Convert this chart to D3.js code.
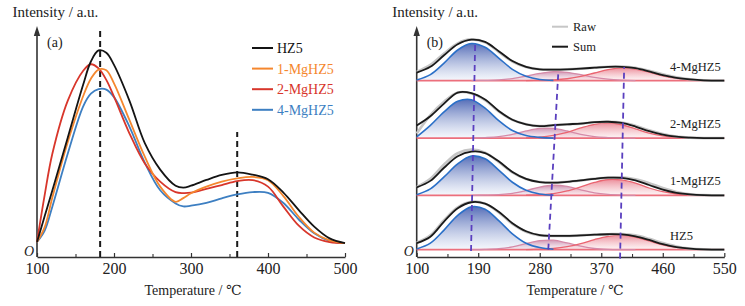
<!DOCTYPE html>
<html>
<head>
<meta charset="utf-8">
<script src="https://cdn.jsdelivr.net/npm/d3@7"></script>
<style>
  body { margin: 0; background: #fff; }
  svg text { font-family: "Liberation Serif", "Times New Roman", "DejaVu Serif", serif; }
</style>
</head>
<body>
<svg id="chart" width="745" height="306"></svg>
<script>
// ---- panel (a): TPD curves ----
const leftTemps = [100,110,120,140,160,170,180,190,200,220,240,260,280,290,300,320,340,360,380,400,420,440,460,480,500];
const leftNames = ["HZ5", "1-MgHZ5", "2-MgHZ5", "4-MgHZ5"];
const leftColors = ["#141414", "#f5872e", "#d8362b", "#3d7fc2"];
const leftHZ5  = [6.5,17.8,29,52,75,85,89.8,88.8,83.5,68,49.5,38,31,30.2,31,33.5,35.7,36.8,35.8,33.8,28,20.4,13.2,8.1,6];
const leftMg1  = [6.5,13,26,50,70,77.5,81.5,81.2,75.5,59.6,43.6,30.6,24,25.6,27.7,30.6,32.8,34.2,34.8,33.4,26.5,17.5,10.6,7.2,6];
const leftMg2  = [6.5,27,45,68,81,83.8,82,77,69.7,53.8,40.7,32.8,28.2,27.8,28,29.6,31.3,33,33.4,30.6,21.9,13.6,8.5,6.5,6];
const leftMg4  = [6.5,11.5,22,45,65.5,71,73,72.8,69.5,56.7,41,29,23.3,22,22.3,23.5,25.5,27.2,28.2,27.9,23.5,16.3,10.3,7,6];
const leftMarkers = [182, 360];
const leftMarkerTops = [99.6, 54.3];

// ---- panel (b): peak fitting ----
const fitNames = ["HZ5", "1-MgHZ5", "2-MgHZ5", "4-MgHZ5"];
const fitOffsets = [3.2, 26.8, 51.7, 76.7];
const sumTemps = [100,120,140,160,180,200,220,240,260,280,300,320,340,360,380,400,420,440,460,480,500,520,550];
const sumValues = [
  [2.8,5.6,12.2,18.0,20.6,20.0,16.5,11.5,8.0,6.3,6.0,6.0,6.2,6.5,6.7,6.6,5.8,4.2,2.4,1.1,0.4,0.1,0],
  [3.5,6.3,12.0,17.0,19.0,18.4,14.8,10.2,7.2,5.8,5.5,5.9,6.5,7.2,7.7,7.6,6.5,4.5,2.5,1.1,0.4,0.1,0],
  [5.5,9.5,15.0,19.8,19.6,16.8,11.8,8.0,6.0,5.2,5.6,6.0,6.3,6.9,7.1,6.6,5.0,3.0,1.5,0.6,0.2,0,0],
  [3.5,6.0,11.0,15.8,17.8,16.8,12.8,8.5,6.0,4.9,4.8,4.9,5.2,5.6,6.0,6.0,5.4,4.0,2.4,1.2,0.5,0.1,0]
];
const rawValues = [
  [3.0,6.2,12.8,18.4,20.8,20.0,16.2,11.2,7.8,6.2,6.0,6.0,6.2,6.5,6.7,6.8,6.2,4.7,2.9,1.4,0.5,0.1,0],
  [3.6,7.2,13.4,18.3,19.9,18.6,14.5,10.0,7.1,5.8,5.5,5.9,6.5,7.2,7.7,7.8,7.0,5.3,3.2,1.5,0.5,0.1,0],
  [2.0,10.0,15.8,19.8,19.4,16.5,11.6,7.9,6.0,5.2,5.6,6.0,6.3,6.9,7.1,6.8,5.4,3.4,1.8,0.7,0.2,0,0],
  [3.8,6.8,11.8,16.2,17.9,16.6,12.5,8.3,5.9,4.9,4.8,4.9,5.2,5.6,6.0,6.1,5.6,4.3,2.7,1.4,0.6,0.1,0]
];
const blueTemps = [100,120,140,160,180,200,220,240,260,280,300];
const blueValues = [
  [0.3,2.8,8.5,14.9,18.6,17.6,12.6,6.9,2.8,0.9,0.2],
  [0.3,2.8,8.0,13.7,17.1,15.9,11.0,5.7,2.2,0.6,0.1],
  [0.5,5.5,11.4,16.0,16.7,13.0,7.6,3.3,1.1,0.3,0],
  [0.3,2.6,7.6,13.3,16.1,14.5,9.8,4.9,1.9,0.5,0.1]
];
const pinkTemps = [180,200,220,240,260,280,300,320,340,360,380,400,420];
const pinkValues = [
  [0,0.1,0.4,1.2,2.6,3.9,4.1,2.9,1.5,0.5,0.1,0,0],
  [0,0.1,0.3,0.9,2.1,3.6,4.4,3.9,2.4,1.1,0.4,0.1,0],
  [0,0.2,0.6,1.6,3.1,4.2,4.2,3.1,1.6,0.6,0.2,0,0],
  [0,0.1,0.3,0.9,1.9,3.1,3.9,3.6,2.6,1.4,0.6,0.2,0]
];
const redTemps = [260,280,300,320,340,360,380,400,420,440,460,480,500,520,540];
const redValues = [
  [0,0.2,0.5,1.3,2.6,4.4,5.8,6.3,5.5,3.8,2.1,1.0,0.4,0.1,0],
  [0.1,0.3,0.8,1.9,3.7,5.6,6.9,6.7,5.3,3.2,1.6,0.6,0.2,0,0],
  [0.1,0.4,1.2,2.5,4.4,6.0,6.6,5.8,4.0,2.2,1.0,0.3,0.1,0,0],
  [0,0.1,0.3,0.8,1.8,3.3,4.8,5.5,5.0,3.7,2.1,1.0,0.4,0.1,0]
];
// dashed peak guides: [temp, intensity] at the low and high ends
const guideLow  = [[179.5, 2.6], [292.5, 3.2], [397.5, -0.7]];
const guideHigh = [[185.5, 92.8], [307, 79.4], [403.5, 82.6]];

const svg = d3.select("#chart");
const serif = '"Liberation Serif", "Times New Roman", serif';

const y = d3.scaleLinear().domain([0, 100]).range([257, 27]);
const xa = d3.scaleLinear().domain([100, 500]).range([37, 345]);
const xb = d3.scaleLinear().domain([100, 550]).range([416.7, 724.3]);

// gradients for the fitted peaks
const defs = svg.append("defs");
function grad(id, top, bottom, op) {
  const g = defs.append("linearGradient").attr("id", id)
    .attr("x1", 0).attr("y1", 0).attr("x2", 0).attr("y2", 1);
  g.append("stop").attr("offset", "0%").attr("stop-color", top).attr("stop-opacity", op);
  g.append("stop").attr("offset", "100%").attr("stop-color", bottom).attr("stop-opacity", op * 0.6);
}
grad("gBlue", "#4d66b4", "#eef2fa", 0.95);
grad("gPink", "#c27a9f", "#f6eaf0", 0.8);
grad("gRed", "#e5697a", "#fbe6e9", 0.75);

function label(x, yy, size, txt) {
  return svg.append("text").attr("x", x).attr("y", yy).attr("font-size", size)
    .attr("font-family", serif).attr("fill", "#222").text(txt);
}

function drawAxes(x, majors, minors, panelLabel, labelX) {
  const ax = svg.append("g")
    .attr("transform", `translate(0,${y(0)})`)
    .attr("font-family", serif)
    .call(d3.axisBottom(x).tickValues(majors).tickSizeInner(-4).tickSizeOuter(0)
      .tickPadding(5.5).tickFormat(d3.format("d")));
  ax.select(".domain").attr("stroke", "#333").attr("stroke-width", 1.6);
  ax.selectAll(".tick line").attr("stroke", "#333").attr("stroke-width", 1.2);
  ax.selectAll(".tick text").attr("font-size", 16).attr("fill", "#222");

  const mi = svg.append("g")
    .attr("transform", `translate(0,${y(0)})`)
    .call(d3.axisBottom(x).tickValues(minors).tickSizeInner(-3).tickSizeOuter(0).tickFormat(""));
  mi.select(".domain").remove();
  mi.selectAll(".tick line").attr("stroke", "#333").attr("stroke-width", 1.1);

  const x0 = x.range()[0];
  svg.append("line")
    .attr("x1", x0).attr("x2", x0).attr("y1", y(0)).attr("y2", y(100) + 6)
    .attr("stroke", "#333").attr("stroke-width", 1.6);
  svg.append("path")
    .attr("d", `M${x0},${y(100) - 1}L${x0 - 3.2},${y(100) + 9}L${x0 + 3.2},${y(100) + 9}Z`)
    .attr("fill", "#333");

  label(x0 - 24.5, 17, 15, "Intensity / a.u.");
  label(x0 - 13, y(0) - 1, 14, "O").attr("font-style", "italic");
  label(labelX, 295, 14, "Temperature / \u2103").attr("text-anchor", "middle");
  label(x0 + 10, 47, 14, panelLabel);
}

// ---- panel (a) ----
drawAxes(xa, d3.range(100, 501, 100), d3.range(150, 451, 100), "(a)", 193);

leftMarkers.forEach((t, i) => {
  svg.append("line")
    .attr("x1", xa(t)).attr("x2", xa(t)).attr("y1", y(0)).attr("y2", y(leftMarkerTops[i]))
    .attr("stroke", "#1a1a1a").attr("stroke-width", 2).attr("stroke-dasharray", "6,4");
});

const leftSeries = [leftHZ5, leftMg1, leftMg2, leftMg4];
const leftLine = d3.line()
  .x((d, i) => xa(leftTemps[i]))
  .y(d => y(d))
  .curve(d3.curveCatmullRom.alpha(0.5));

[3, 2, 1, 0].forEach(i => {
  svg.append("path")
    .attr("d", leftLine(leftSeries[i]))
    .attr("fill", "none")
    .attr("stroke", leftColors[i])
    .attr("stroke-width", 1.8);
});

leftNames.forEach((n, i) => {
  const ly = 48 + i * 20.6;
  svg.append("line").attr("x1", 252).attr("x2", 273).attr("y1", ly).attr("y2", ly)
    .attr("stroke", leftColors[i]).attr("stroke-width", 2);
  label(277, ly, 14, n).attr("dy", "0.35em").attr("fill", leftColors[i]);
});

// ---- panel (b) ----
drawAxes(xb, d3.range(100, 551, 90), d3.range(145, 506, 90), "(b)", 575);

function fitArea(temps, off) {
  return d3.area()
    .x((d, i) => xb(temps[i]))
    .y0(y(off))
    .y1(d => y(off + Math.max(0, d)))
    .curve(d3.curveCatmullRom.alpha(0.5));
}
function fitLine(temps, off) {
  return d3.line()
    .x((d, i) => xb(temps[i]))
    .y(d => y(off + d))
    .curve(d3.curveCatmullRom.alpha(0.5));
}

fitNames.forEach((name, k) => {
  const off = fitOffsets[k];
  const g = svg.append("g");

  g.append("path").attr("d", fitArea(blueTemps, off)(blueValues[k])).attr("fill", "url(#gBlue)");
  g.append("path").attr("d", fitArea(pinkTemps, off)(pinkValues[k])).attr("fill", "url(#gPink)");
  g.append("path").attr("d", fitArea(redTemps, off)(redValues[k])).attr("fill", "url(#gRed)");

  g.append("line")
    .attr("x1", xb(100)).attr("x2", xb(550)).attr("y1", y(off)).attr("y2", y(off))
    .attr("stroke", "#ec6f7c").attr("stroke-width", 1.6);

  g.append("path").attr("d", fitLine(pinkTemps, off)(pinkValues[k]))
    .attr("fill", "none").attr("stroke", "#d58aa8").attr("stroke-width", 1.3);
  g.append("path").attr("d", fitLine(redTemps, off)(redValues[k]))
    .attr("fill", "none").attr("stroke", "#ea6470").attr("stroke-width", 1.3);
  g.append("path").attr("d", fitLine(blueTemps, off)(blueValues[k]))
    .attr("fill", "none").attr("stroke", "#2b70c8").attr("stroke-width", 1.6);

  g.append("path").attr("d", fitLine(sumTemps, off)(rawValues[k]))
    .attr("fill", "none").attr("stroke", "#c6c6c6").attr("stroke-width", 2.6);
  g.append("path").attr("d", fitLine(sumTemps, off)(sumValues[k]))
    .attr("fill", "none").attr("stroke", "#1a1a1a").attr("stroke-width", 1.8);

  label(670, y(off) - 10, 12.5, name);
});

guideLow.forEach((p, i) => {
  svg.append("line")
    .attr("x1", xb(p[0])).attr("y1", y(p[1]))
    .attr("x2", xb(guideHigh[i][0])).attr("y2", y(guideHigh[i][1]))
    .attr("stroke", "#5a3fbf").attr("stroke-width", 1.8).attr("stroke-dasharray", "6,4");
});

// Raw / Sum legend
const leg2 = [["Raw", "#c6c6c6", 26.7], ["Sum", "#1a1a1a", 46.7]];
leg2.forEach(d => {
  svg.append("line").attr("x1", 552).attr("x2", 568).attr("y1", d[2]).attr("y2", d[2])
    .attr("stroke", d[1]).attr("stroke-width", 2);
  label(573, d[2], 12.5, d[0]).attr("dy", "0.35em");
});
</script>
</body>
</html>
